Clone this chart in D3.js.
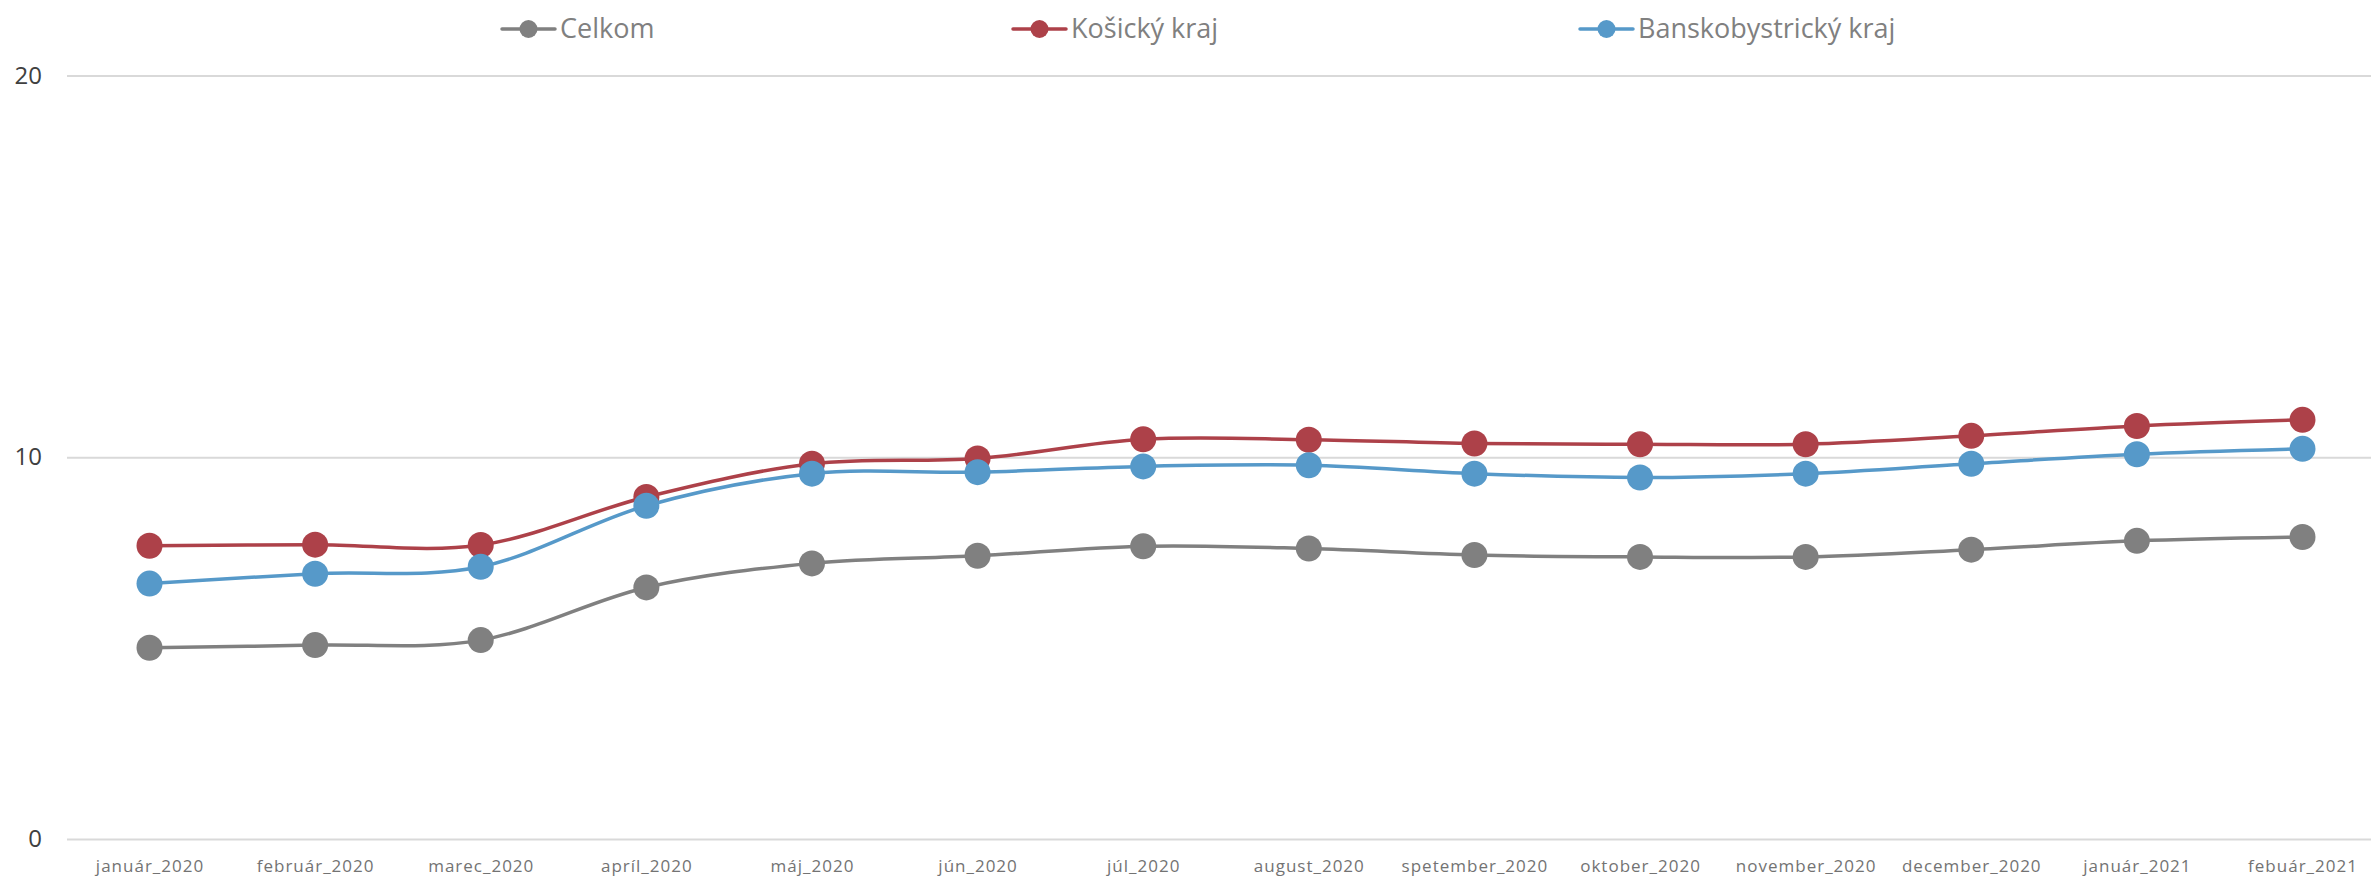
<!DOCTYPE html>
<html>
<head>
<meta charset="utf-8">
<script src="https://cdn.jsdelivr.net/npm/d3@7"></script>
<style>
  html, body { margin: 0; padding: 0; background: #ffffff; }
  svg { display: block; }
</style>
</head>
<body>
<svg id="chart" width="2371" height="877"></svg>
<script>
const categories = ["január_2020", "február_2020", "marec_2020", "apríl_2020", "máj_2020", "jún_2020", "júl_2020", "august_2020", "spetember_2020", "oktober_2020", "november_2020", "december_2020", "január_2021", "febuár_2021"];
const seriesNames = ["Celkom", "Košický kraj", "Banskobystrický kraj"];
const celkom = [5.01, 5.08, 5.21, 6.59, 7.22, 7.42, 7.67, 7.61, 7.44, 7.39, 7.39, 7.58, 7.81, 7.91];
const kosicky = [7.68, 7.71, 7.70, 8.96, 9.83, 9.97, 10.47, 10.46, 10.36, 10.34, 10.34, 10.56, 10.82, 10.98];
const banskobystricky = [6.69, 6.95, 7.13, 8.73, 9.57, 9.61, 9.76, 9.79, 9.57, 9.47, 9.57, 9.83, 10.08, 10.22];
const yTicks = [0, 10, 20];
const colors = ["#808080", "#ad4149", "#5699c9"];

const seriesValues = [celkom, kosicky, banskobystricky];

const svg = d3.select("#chart");
const W = 2371;

const x = d3.scalePoint().domain(categories).range([149.5, 2302.5]);
const y = d3.scaleLinear().domain([0, 20]).range([839, 75.5]);

// Y axis + gridlines
const gridLeft = 67;
const yAxis = d3.axisLeft(y).tickValues(yTicks).tickSize(-(W - gridLeft)).tickPadding(25).tickFormat(d3.format("d"));
const gy = svg.append("g").attr("transform", `translate(${gridLeft},0)`).call(yAxis);
gy.select(".domain").remove();
gy.selectAll(".tick line").attr("stroke", "#d9d9d9").attr("stroke-width", 2);
gy.selectAll(".tick text")
  .attr("fill", "#404040")
  .style("font-family", "'Open Sans', sans-serif")
  .style("font-size", "24px");

// X axis labels
const xAxis = d3.axisBottom(x).tickSize(0).tickPadding(21);
const gx = svg.append("g").attr("transform", `translate(0,839)`).call(xAxis);
gx.select(".domain").remove();
gx.selectAll(".tick text")
  .attr("fill", "#737373")
  .style("font-family", "'Open Sans', sans-serif")
  .style("font-size", "17px")
  .style("letter-spacing", "1px");

// Lines and markers
const line = d3.line()
  .x((d, i) => x(categories[i]))
  .y(d => y(d))
  .curve(d3.curveCardinal.tension(0));

seriesValues.forEach((vals, si) => {
  const g = svg.append("g");
  g.append("path")
    .datum(vals)
    .attr("fill", "none")
    .attr("stroke", colors[si])
    .attr("stroke-width", 3.5)
    .attr("stroke-linecap", "round")
    .attr("d", line);
  g.selectAll("circle")
    .data(vals)
    .enter()
    .append("circle")
    .attr("cx", (d, i) => x(categories[i]))
    .attr("cy", d => y(d))
    .attr("r", 13)
    .attr("fill", colors[si]);
});

// Legend
const legendX = [502, 1013, 1580];
const legendY = 29;
seriesNames.forEach((name, i) => {
  const g = svg.append("g").attr("transform", `translate(${legendX[i]},${legendY})`);
  g.append("line").attr("x1", 0).attr("x2", 53).attr("y1", 0).attr("y2", 0)
    .attr("stroke", colors[i]).attr("stroke-width", 3.5).attr("stroke-linecap", "round");
  g.append("circle").attr("cx", 26.5).attr("cy", 0).attr("r", 9).attr("fill", colors[i]);
  g.append("text").attr("x", 58).attr("y", 0).attr("dy", "0.32em")
    .attr("fill", "#808080")
    .style("font-family", "'Open Sans', sans-serif")
    .style("font-size", "27px")
    .text(name);
});
</script>
</body>
</html>
